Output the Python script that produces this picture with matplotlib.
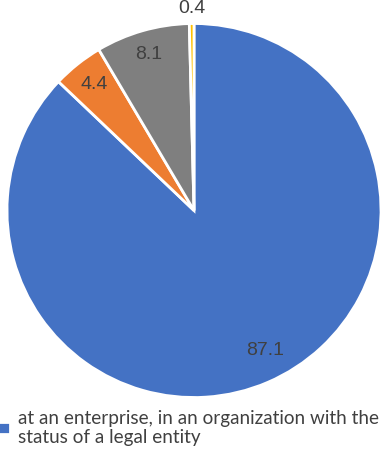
import matplotlib
matplotlib.use("Agg")
import matplotlib.pyplot as plt
import numpy as np

categories = ["at an enterprise, in an organization with the\nstatus of a legal entity",
              "other 1", "other 2", "other 3"]
values = [87.1, 4.4, 8.1, 0.4]
labels = ["87.1", "4.4", "8.1", "0.4"]
colors = ["#4472C4", "#ED7D31", "#7F7F7F", "#FFC000"]
# label placement (radius fraction, angular offset in degrees from wedge middle)
label_radius = [0.84, 0.86, 0.87, 1.08]
label_shift = [3.8, 0.0, 0.0, 0.0]

plt.rcParams['font.family'] = ['Lato', 'DejaVu Sans']

fig = plt.figure(figsize=(3.86, 4.54), dpi=100)
ax = fig.add_axes([0.0181, 0.1244, 0.969, 0.8238])
wedges, _ = ax.pie(values, colors=colors, startangle=90, counterclock=False,
                   wedgeprops=dict(edgecolor="white", linewidth=2))
ax.set_xlim(-1, 1)
ax.set_ylim(-1, 1)
ax.set_aspect("auto")

for w, lab, r, s in zip(wedges, labels, label_radius, label_shift):
    ang = np.deg2rad((w.theta1 + w.theta2) / 2 + s)
    ax.text(r * np.cos(ang), r * np.sin(ang), lab, ha="center", va="center",
            fontsize=14, color="#404040", family="Liberation Sans")

fig.legend([wedges[0]], [categories[0]], loc="upper left",
           bbox_to_anchor=(-0.006, 0.096), frameon=False, fontsize=13.6,
           handlelength=0.65, handleheight=0.6, handletextpad=0.4,
           labelcolor="#404040", borderaxespad=0, borderpad=0, labelspacing=0.2)
for t in fig.legends[0].get_texts():
    t.set_linespacing(1.1)

fig.savefig("out.png", dpi=100)
